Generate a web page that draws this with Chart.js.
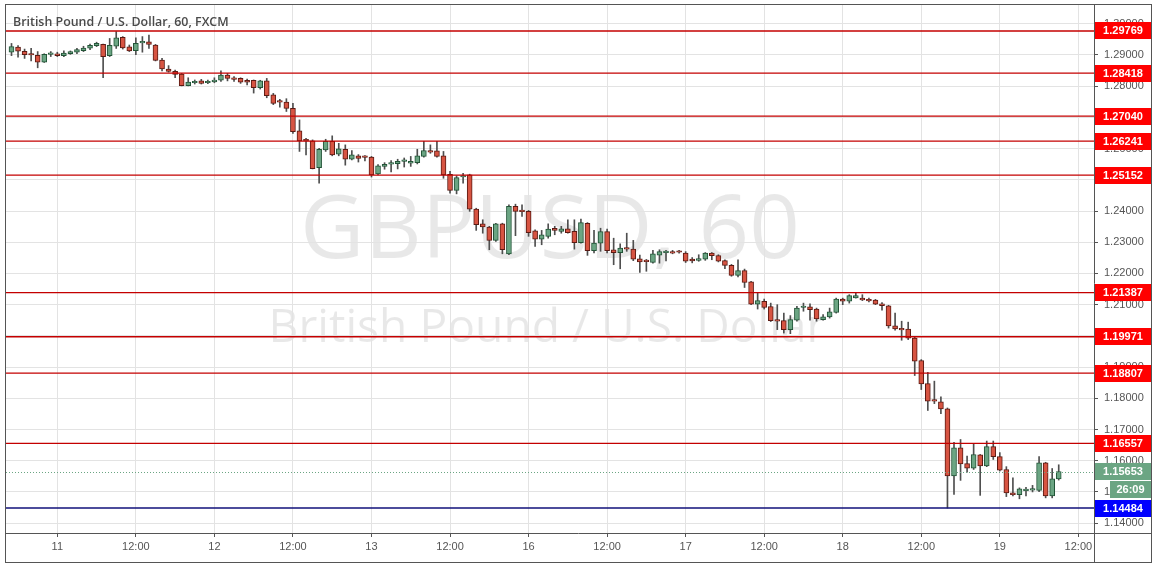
<!DOCTYPE html>
<html>
<head>
<meta charset="utf-8">
<title>GBPUSD, 60</title>
<script src="https://cdn.jsdelivr.net/npm/chart.js@4.4.0/dist/chart.umd.min.js"></script>
<style>
    html, body { margin: 0; padding: 0; background: #ffffff; }
    canvas { display: block; }
</style>
</head>
<body>
<canvas id="chart-gbpusd" width="1157" height="565"></canvas>
<script>
// === GBPUSD 60 min, FXCM ===
// Velas horárias (abertura, máxima, mínima, fecho)

const opens = [
    1.2909, 1.2925, 1.2912, 1.2901, 1.2899, 1.2877, 1.2902, 1.2904, 1.2898, 1.2904,
    1.2909, 1.2914, 1.2922, 1.2930, 1.2934, 1.2898, 1.2928, 1.2957, 1.2926, 1.2914,
    1.2939, 1.2942, 1.2932, 1.2884, 1.2855, 1.2848, 1.2839, 1.2802, 1.2811, 1.2817,
    1.2811, 1.2814, 1.2819, 1.2836, 1.2823, 1.2825, 1.2819, 1.2819, 1.2795, 1.2817,
    1.2772, 1.2753, 1.2749, 1.2729, 1.2657, 1.2626, 1.2625, 1.2539, 1.2596, 1.2623,
    1.2582, 1.2598, 1.2566, 1.2577, 1.2573, 1.2573, 1.2519, 1.2543, 1.2550, 1.2552,
    1.2559, 1.2553, 1.2555, 1.2575, 1.2593, 1.2593, 1.2577, 1.2518, 1.2466, 1.2509,
    1.2516, 1.2406, 1.2359, 1.2349, 1.2306, 1.2359, 1.2263, 1.2415, 1.2399, 1.2399,
    1.2337, 1.2310, 1.2319, 1.2345, 1.2335, 1.2343, 1.2335, 1.2299, 1.2361, 1.2273,
    1.2297, 1.2334, 1.2276, 1.2267, 1.2281, 1.2278, 1.2247, 1.2239, 1.2235, 1.2259,
    1.2267, 1.2270, 1.2269, 1.2265, 1.2246, 1.2242, 1.2246, 1.2265, 1.2257, 1.2241,
    1.2226, 1.2194, 1.2209, 1.2173, 1.2102, 1.2111, 1.2094, 1.2052, 1.2049, 1.2020,
    1.2050, 1.2091, 1.2093, 1.2086, 1.2052, 1.2061, 1.2075, 1.2118, 1.2111, 1.2122,
    1.2121, 1.2116, 1.2115, 1.2103, 1.2096, 1.2032, 1.2020, 1.2022, 1.1993, 1.1921,
    1.1847, 1.1795, 1.1789, 1.1766, 1.1551, 1.1641, 1.1591, 1.1576, 1.1619, 1.1583,
    1.1645, 1.1613, 1.1572, 1.1497, 1.1491, 1.1504, 1.1506, 1.1505, 1.1593, 1.1487,
    1.1542
];

const highs = [
    1.2937, 1.2930, 1.2919, 1.2921, 1.2911, 1.2904, 1.2911, 1.2909, 1.2913, 1.2913,
    1.2921, 1.2928, 1.2935, 1.2941, 1.2935, 1.2953, 1.2975, 1.2959, 1.2932, 1.2955,
    1.2959, 1.2964, 1.2934, 1.2889, 1.2866, 1.2852, 1.2841, 1.2827, 1.2820, 1.2822,
    1.2820, 1.2827, 1.2849, 1.2841, 1.2831, 1.2827, 1.2823, 1.2820, 1.2819, 1.2825,
    1.2777, 1.2758, 1.2760, 1.2745, 1.2692, 1.2633, 1.2628, 1.2601, 1.2630, 1.2641,
    1.2617, 1.2612, 1.2594, 1.2581, 1.2578, 1.2575, 1.2549, 1.2555, 1.2562, 1.2566,
    1.2570, 1.2575, 1.2598, 1.2623, 1.2612, 1.2623, 1.2591, 1.2527, 1.2513, 1.2521,
    1.2518, 1.2409, 1.2372, 1.2351, 1.2361, 1.2361, 1.2420, 1.2422, 1.2420, 1.2402,
    1.2340, 1.2338, 1.2359, 1.2351, 1.2351, 1.2372, 1.2372, 1.2374, 1.2363, 1.2338,
    1.2345, 1.2342, 1.2313, 1.2295, 1.2329, 1.2306, 1.2259, 1.2245, 1.2274, 1.2276,
    1.2274, 1.2274, 1.2274, 1.2270, 1.2251, 1.2260, 1.2267, 1.2267, 1.2260, 1.2244,
    1.2229, 1.2244, 1.2214, 1.2175, 1.2139, 1.2118, 1.2105, 1.2100, 1.2073, 1.2065,
    1.2095, 1.2105, 1.2103, 1.2089, 1.2068, 1.2089, 1.2121, 1.2121, 1.2132, 1.2139,
    1.2132, 1.2121, 1.2117, 1.2107, 1.2098, 1.2073, 1.2047, 1.2044, 1.1996, 1.1924,
    1.1883, 1.1855, 1.1805, 1.1769, 1.1659, 1.1668, 1.1615, 1.1655, 1.1620, 1.1663,
    1.1663, 1.1626, 1.1581, 1.1545, 1.1513, 1.1515, 1.1521, 1.1613, 1.1595, 1.1575,
    1.1587
];

const lows = [
    1.2898, 1.2893, 1.2889, 1.2881, 1.2859, 1.2876, 1.2895, 1.2895, 1.2895, 1.2902,
    1.2904, 1.2911, 1.2917, 1.2927, 1.2827, 1.2895, 1.2921, 1.2919, 1.2911, 1.2901,
    1.2909, 1.2921, 1.2881, 1.2849, 1.2845, 1.2827, 1.2801, 1.2801, 1.2807, 1.2807,
    1.2808, 1.2811, 1.2815, 1.2817, 1.2815, 1.2809, 1.2804, 1.2778, 1.2791, 1.2763,
    1.2741, 1.2733, 1.2719, 1.2649, 1.2591, 1.2580, 1.2535, 1.2489, 1.2591, 1.2577,
    1.2577, 1.2547, 1.2564, 1.2557, 1.2561, 1.2509, 1.2516, 1.2534, 1.2525, 1.2535,
    1.2541, 1.2543, 1.2551, 1.2573, 1.2585, 1.2573, 1.2505, 1.2457, 1.2455, 1.2489,
    1.2399, 1.2338, 1.2329, 1.2276, 1.2303, 1.2263, 1.2260, 1.2321, 1.2383, 1.2319,
    1.2287, 1.2292, 1.2313, 1.2324, 1.2329, 1.2329, 1.2278, 1.2297, 1.2258, 1.2266,
    1.2271, 1.2266, 1.2228, 1.2215, 1.2271, 1.2241, 1.2203, 1.2207, 1.2233, 1.2233,
    1.2240, 1.2263, 1.2265, 1.2235, 1.2234, 1.2239, 1.2242, 1.2244, 1.2237, 1.2215,
    1.2191, 1.2189, 1.2155, 1.2100, 1.2086, 1.2086, 1.2046, 1.2020, 1.2009, 1.2007,
    1.2047, 1.2079, 1.2050, 1.2047, 1.2050, 1.2057, 1.2073, 1.2100, 1.2105, 1.2121,
    1.2113, 1.2109, 1.2100, 1.2082, 1.2025, 1.2018, 1.1986, 1.1988, 1.1873, 1.1828,
    1.1761, 1.1783, 1.1751, 1.14484, 1.1492, 1.1537, 1.1563, 1.1572, 1.1489, 1.1581,
    1.1604, 1.1567, 1.1485, 1.1487, 1.1478, 1.1487, 1.1500, 1.1501, 1.1481, 1.1481,
    1.1538
];

const closes = [
    1.2927, 1.2912, 1.2901, 1.2900, 1.2877, 1.2902, 1.2903, 1.2898, 1.2906, 1.2911,
    1.2917, 1.2922, 1.2931, 1.2937, 1.2895, 1.2931, 1.2955, 1.2923, 1.2913, 1.2937,
    1.2940, 1.2934, 1.2883, 1.2855, 1.2847, 1.2838, 1.2802, 1.2813, 1.2815, 1.2809,
    1.2816, 1.2820, 1.2836, 1.2825, 1.2822, 1.2813, 1.2813, 1.2795, 1.2817, 1.2770,
    1.2745, 1.2749, 1.2729, 1.2654, 1.2625, 1.2625, 1.2536, 1.2598, 1.2623, 1.2580,
    1.2599, 1.2566, 1.2580, 1.2569, 1.2572, 1.2516, 1.2545, 1.2550, 1.2555, 1.2559,
    1.2560, 1.2559, 1.2577, 1.2594, 1.2589, 1.2575, 1.2516, 1.2466, 1.2507, 1.2514,
    1.2406, 1.2356, 1.2349, 1.2306, 1.2359, 1.2276, 1.2415, 1.2399, 1.2398, 1.2331,
    1.2310, 1.2324, 1.2342, 1.2338, 1.2343, 1.2331, 1.2299, 1.2363, 1.2273, 1.2297,
    1.2334, 1.2273, 1.2267, 1.2281, 1.2278, 1.2246, 1.2237, 1.2238, 1.2263, 1.2270,
    1.2270, 1.2265, 1.2268, 1.2239, 1.2240, 1.2248, 1.2265, 1.2257, 1.2239, 1.2226,
    1.2194, 1.2209, 1.2171, 1.2102, 1.2113, 1.2091, 1.2049, 1.2047, 1.2020, 1.2052,
    1.2089, 1.2092, 1.2084, 1.2054, 1.2061, 1.2077, 1.2118, 1.2111, 1.2129, 1.2129,
    1.2115, 1.2112, 1.2102, 1.2097, 1.2032, 1.2022, 1.2019, 1.1993, 1.1919, 1.1846,
    1.1791, 1.1791, 1.1766, 1.1551, 1.1641, 1.1590, 1.1576, 1.1620, 1.1583, 1.1645,
    1.1613, 1.1570, 1.1497, 1.1491, 1.1510, 1.1508, 1.1507, 1.1593, 1.1487, 1.1542,
    1.15653
];

// A primeira vela é das 17:00 do dia 10 (horas contadas a partir do dia 11 00:00)
const firstHour = -7;

// Eixo do tempo
const tickHours = [0, 12, 24, 36, 48, 60, 72, 84, 96, 108, 120, 132, 144, 156];
const tickLabels = ['11', '12:00', '12', '12:00', '13', '12:00', '16', '12:00', '17', '12:00', '18', '12:00', '19', '12:00'];

// Eixo de preços
const priceTicks = [1.14, 1.15, 1.16, 1.17, 1.18, 1.19, 1.20, 1.21, 1.22, 1.23, 1.24, 1.25, 1.26, 1.27, 1.28, 1.29, 1.30];

// Linhas horizontais desenhadas
const levelPrices = [1.29769, 1.28418, 1.27040, 1.26241, 1.25152, 1.21387, 1.19971, 1.18807, 1.16557];
const supportPrice = 1.14484;
const lastPrice = 1.15653;
const countdown = '26:09';

const UP = '#6ba583', UP_BORDER = '#225437';
const DOWN = '#d75442', DOWN_BORDER = '#5b1a13';
const WICK = '#4f4f4f';
const AXIS_FONT = '"Liberation Sans", Arial, sans-serif';

// Montar os dados das velas
const hours = opens.map((_, i) => firstHour + i);
const bodies = opens.map((o, i) => ({ x: hours[i], y: [o, closes[i]] }));
const wicks = opens.map((o, i) => ({ x: hours[i], y: [lows[i], highs[i]] }));
const isUp = opens.map((o, i) => closes[i] >= o);

function fitFont(ctx, text, width, weight, family) {
    ctx.font = weight + ' 100px ' + family;
    return 100 * width / ctx.measureText(text).width;
}

// Marca d'água e fundo
const watermarkPlugin = {
    id: 'watermark',
    beforeDraw(chart) {
        const ctx = chart.ctx;
        ctx.save();
        ctx.fillStyle = '#ffffff';
        ctx.fillRect(0, 0, chart.width, chart.height);
        ctx.fillStyle = 'rgba(0, 0, 0, 0.09)';
        ctx.textAlign = 'center';
        ctx.textBaseline = 'alphabetic';
        const fam = '"Open Sans", "Noto Sans", sans-serif';
        let size = fitFont(ctx, 'GBPUSD, 60', 500, 'normal', fam);
        ctx.font = 'normal ' + size + 'px ' + fam;
        ctx.fillText('GBPUSD, 60', 550, 258);
        size = fitFont(ctx, 'British Pound / U.S. Dollar', 557, 'normal', fam);
        ctx.font = 'normal ' + size + 'px ' + fam;
        ctx.fillText('British Pound / U.S. Dollar', 547, 342);
        ctx.restore();
    }
};

// Linhas de suporte / resistência
const levelsPlugin = {
    id: 'levels',
    afterDatasetsDraw(chart) {
        const ctx = chart.ctx;
        const area = chart.chartArea;
        const y = chart.scales.y;
        ctx.save();
        ctx.lineWidth = 1.4;
        ctx.strokeStyle = '#c40000';
        levelPrices.forEach(p => {
            const py = y.getPixelForValue(p);
            ctx.beginPath();
            ctx.moveTo(area.left, py);
            ctx.lineTo(area.right, py);
            ctx.stroke();
        });
        ctx.strokeStyle = '#10107a';
        let py = y.getPixelForValue(supportPrice);
        ctx.beginPath();
        ctx.moveTo(area.left, py);
        ctx.lineTo(area.right, py);
        ctx.stroke();

        ctx.lineWidth = 1;
        ctx.strokeStyle = UP;
        ctx.setLineDash([1, 2]);
        py = Math.round(y.getPixelForValue(lastPrice)) + 0.5;
        ctx.beginPath();
        ctx.moveTo(area.left, py);
        ctx.lineTo(area.right, py);
        ctx.stroke();
        ctx.restore();
    }
};

// Moldura, título e etiquetas de preço
const overlayPlugin = {
    id: 'overlay',
    afterDraw(chart) {
        const ctx = chart.ctx;
        const area = chart.chartArea;
        const y = chart.scales.y;
        ctx.save();

        ctx.strokeStyle = '#555555';
        ctx.lineWidth = 1;
        ctx.strokeRect(5.5, 4.5, 1146, 558);
        ctx.beginPath();
        ctx.moveTo(area.right + 0.5, 4.5);
        ctx.lineTo(area.right + 0.5, 562.5);
        ctx.moveTo(5.5, area.bottom + 0.5);
        ctx.lineTo(1151.5, area.bottom + 0.5);
        ctx.stroke();

        // Título
        const titleFam = '"Open Sans", "Noto Sans", sans-serif';
        const title = 'British Pound / U.S. Dollar, 60, FXCM';
        const ts = fitFont(ctx, title, 216, '600', titleFam);
        ctx.font = '600 ' + ts + 'px ' + titleFam;
        ctx.fillStyle = '#4a4a4a';
        ctx.textAlign = 'left';
        ctx.textBaseline = 'alphabetic';
        ctx.fillText(title, 13, 26);

        // Etiquetas no eixo de preços
        function tag(price, text, color, left, top) {
            const cy = y.getPixelForValue(price);
            const t = top !== undefined ? top : Math.round(cy - 8.5);
            ctx.fillStyle = color;
            ctx.fillRect(left, t, 1151 - left, 17);
            ctx.fillStyle = '#ffffff';
            ctx.font = 'bold 11px ' + AXIS_FONT;
            ctx.textAlign = 'center';
            ctx.textBaseline = 'middle';
            ctx.fillText(text, (left + 1151) / 2, t + 9);
        }
        levelPrices.forEach(p => tag(p, p.toFixed(5), '#ff0000', area.right + 1));
        tag(supportPrice, supportPrice.toFixed(5), '#0000ff', area.right + 1);
        const lastTop = Math.round(y.getPixelForValue(lastPrice) - 8.5);
        tag(lastPrice, lastPrice.toFixed(5), UP, area.right + 1, lastTop);
        tag(lastPrice, countdown, UP, 1110, lastTop + 18);

        ctx.restore();
    }
};

function createCandleChart() {
    const ctx = document.getElementById('chart-gbpusd');

    window.candleChart = new Chart(ctx, {
        type: 'bar',
        data: {
            datasets: [{
                label: 'Corpo',
                data: bodies,
                backgroundColor: isUp.map(u => u ? UP : DOWN),
                borderColor: isUp.map(u => u ? UP_BORDER : DOWN_BORDER),
                borderWidth: 1,
                borderSkipped: false,
                barThickness: 5,
                minBarLength: 1.5,
                grouped: false,
                order: 0
            }, {
                label: 'Pavio',
                data: wicks,
                backgroundColor: WICK,
                barThickness: 1,
                grouped: false,
                order: 1
            }]
        },
        options: {
            responsive: false,
            animation: false,
            layout: {
                autoPadding: false,
                padding: { left: 6, top: 5, right: 6, bottom: 3 }
            },
            plugins: {
                legend: { display: false },
                tooltip: { enabled: false }
            },
            scales: {
                x: {
                    type: 'linear',
                    offset: false,
                    min: -7.84,
                    max: 158.39,
                    afterBuildTicks: axis => {
                        axis.ticks = tickHours.map(v => ({ value: v }));
                    },
                    afterFit: axis => {
                        axis.height = 29;
                        axis.paddingLeft = 0;
                        axis.paddingRight = 0;
                    },
                    grid: {
                        offset: false,
                        color: '#e3e3e3',
                        tickColor: '#555555',
                        tickLength: 4
                    },
                    border: { display: false },
                    ticks: {
                        autoSkip: false,
                        maxRotation: 0,
                        padding: 3,
                        color: '#555555',
                        font: { family: AXIS_FONT, size: 11 },
                        callback: function(value) {
                            const i = tickHours.indexOf(value);
                            return i >= 0 ? tickLabels[i] : '';
                        }
                    }
                },
                y: {
                    position: 'right',
                    min: 1.13684,
                    max: 1.30602,
                    afterBuildTicks: axis => {
                        axis.ticks = priceTicks.map(v => ({ value: v }));
                    },
                    afterFit: axis => {
                        axis.width = 57;
                        axis.paddingTop = 0;
                        axis.paddingBottom = 0;
                    },
                    grid: {
                        color: '#e3e3e3',
                        tickColor: '#555555',
                        tickLength: 4
                    },
                    border: { display: false },
                    ticks: {
                        autoSkip: false,
                        padding: 6,
                        color: '#555555',
                        font: { family: AXIS_FONT, size: 11 },
                        callback: function(value) {
                            return value.toFixed(5);
                        }
                    }
                }
            }
        },
        plugins: [watermarkPlugin, levelsPlugin, overlayPlugin]
    });
}

createCandleChart();
</script>
</body>
</html>
